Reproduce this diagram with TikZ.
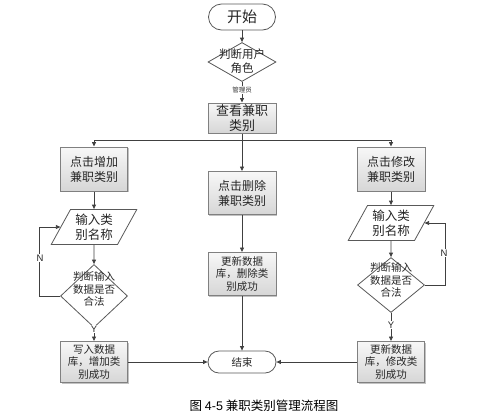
\documentclass[tikz,border=0pt]{standalone}
\usepackage{fontspec}
\newfontfamily\cjk{Noto Sans CJK SC}
\newfontfamily\lat{Liberation Sans}
\usetikzlibrary{shapes.geometric,arrows.meta,shadows}
\definecolor{lc}{HTML}{404040}
\definecolor{bd}{HTML}{808080}
\tikzset{
  base/.style={font=\cjk\fontsize{10.5}{12.5}\selectfont, text=black!85, inner sep=0pt, align=center},
  procbox/.style={base, draw=bd, line width=1pt, top color=black!3, bottom color=black!16,
    drop shadow={shadow xshift=1.3pt, shadow yshift=-1.3pt, fill=black!40, opacity=0.6}},
  term/.style={base, draw=black!65, line width=0.8pt, fill=white},
  dia/.style={diamond, draw=black!65, line width=0.8pt, fill=white, inner sep=0pt},
  para/.style={trapezium, trapezium stretches=true, trapezium left angle=60, trapezium right angle=120,
    draw=black!65, line width=0.8pt, fill=white, base},
  arr/.style={draw=lc, line width=0.8pt, -{Triangle[length=4.5pt,width=4pt]}},
  yn/.style={font=\lat\fontsize{9.5}{10}\selectfont, fill=white, inner sep=0.6pt, text=black!85},
}
\begin{document}
\begin{tikzpicture}[x=1pt,y=-1pt]
\useasboundingbox (0,0) rectangle (481,413);
% nodes
\node[term, rounded corners=13pt, minimum width=67pt, minimum height=26pt, font=\cjk\fontsize{15}{17}\selectfont] (start) at (242,17) {开始};
\node[dia, minimum width=68pt, minimum height=39pt] (d1) at (242,62) {};
\node[base, font=\cjk\fontsize{11.5}{14.5}\selectfont] (d1t) at (242,61) {判断用户\\角色};
\node[procbox, minimum width=68pt, minimum height=30pt, font=\cjk\fontsize{13}{15}\selectfont] (view) at (242,118) {查看兼职\\类别};
\node[procbox, minimum width=67pt, minimum height=44pt, font=\cjk\fontsize{12}{15}\selectfont] (add) at (94,169) {点击增加\\兼职类别};
\node[procbox, minimum width=68pt, minimum height=43pt, font=\cjk\fontsize{12}{15}\selectfont] (del) at (242,193) {点击删除\\兼职类别};
\node[procbox, minimum width=68pt, minimum height=44pt, font=\cjk\fontsize{12}{15}\selectfont] (mod) at (391,169) {点击修改\\兼职类别};
\node[para, minimum width=86pt, minimum height=35pt, font=\cjk\fontsize{12.5}{15}\selectfont] (inL) at (94,227) {输入类\\别名称};
\node[para, minimum width=86pt, minimum height=35pt, font=\cjk\fontsize{12.5}{15}\selectfont] (inR) at (391,223) {输入类\\别名称};
\node[dia, minimum width=67pt, minimum height=63pt] (dL) at (94,296) {};
\node[base] (dLt) at (94,289) {判断输入\\数据是否\\合法};
\node[dia, minimum width=67pt, minimum height=55pt] (dR) at (391,285) {};
\node[base] (dRt) at (391,280) {判断输入\\数据是否\\合法};
\node[procbox, minimum width=68pt, minimum height=43pt] (upd) at (242,274) {更新数据\\库，删除类\\别成功};
\node[procbox, minimum width=67pt, minimum height=41pt] (wL) at (94,362) {写入数据\\库，增加类\\别成功};
\node[procbox, minimum width=67pt, minimum height=41pt] (wR) at (391,362) {更新数据\\库，修改类\\别成功};
\node[term, rounded corners=11pt, minimum width=68pt, minimum height=22pt] (end) at (242,362) {结束};
\node[font=\cjk\fontsize{12.5}{14}\selectfont, inner sep=0pt] (cap) at (264,406) {图 {\lat 4-5} 兼职类别管理流程图};
% connectors
\draw[arr] (start) -- (d1);
\draw[arr] (d1) -- (view);
\node[font=\cjk\fontsize{6.5}{7}\selectfont, fill=white, inner sep=0.5pt, text=black!80] (adm) at (242,90) {管理员};
\draw[arr] (view) -- (del);
\coordinate (br) at (242,140);
\draw[arr] (br) -| (add.north);
\draw[arr] (br) -| (mod.north);
\draw[arr] (add) -- (inL);
\draw[arr] (inL) -- (dL);
\draw[arr] (dL) -- (wL);
\node[yn] (yL) at (94,329) {Y};
\draw[arr] (dL.west) -- ++(-21,0) |- (inL.left side);
\node[yn] (nL) at (40,258) {N};
\draw[arr] (mod) -- (inR);
\draw[arr] (inR) -- (dR);
\draw[arr] (dR) -- (wR);
\node[yn] (yR) at (391,325) {Y};
\draw[arr] (dR.east) -- ++(20,0) |- (inR.right side);
\node[yn] (nR) at (444,253) {N};
\draw[arr] (del) -- (upd);
\draw[arr] (upd) -- (end);
\draw[arr] (wL) -- (end);
\draw[arr] (wR) -- (end);
\end{tikzpicture}
\end{document}
